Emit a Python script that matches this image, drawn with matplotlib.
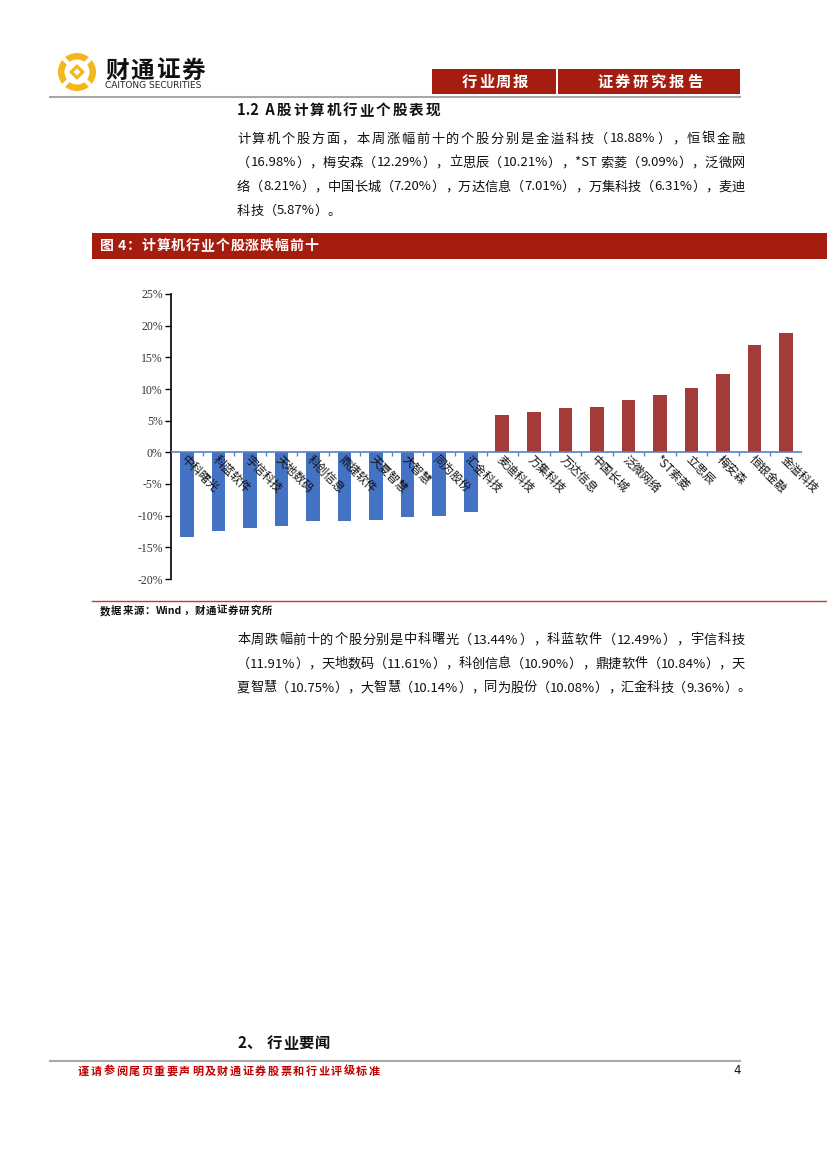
import matplotlib.pyplot as plt
from matplotlib.patches import Rectangle, Circle, Polygon

plt.rcParams['font.family'] = ['Noto Sans CJK SC', 'DejaVu Sans']

W, H = 827, 1170

# chart data (%)
names = ['中科曙光', '科蓝软件', '宇信科技', '天地数码', '科创信息', '鼎捷软件', '天夏智慧',
         '大智慧', '同为股份', '汇金科技', '麦迪科技', '万集科技', '万达信息', '中国长城',
         '泛微网络', '*ST索菱', '立思辰', '梅安森', '恒银金融', '金溢科技']
changes = [-13.44, -12.49, -11.91, -11.61, -10.90, -10.84, -10.75, -10.14, -10.08, -9.36,
           5.87, 6.31, 7.01, 7.20, 8.21, 9.09, 10.21, 12.29, 16.98, 18.88]
yticks = [-20, -15, -10, -5, 0, 5, 10, 15, 20, 25]

para1 = ['计算机个股方面，本周涨幅前十的个股分别是金溢科技（18.88%），恒银金融',
         '（16.98%），梅安森（12.29%），立思辰（10.21%），*ST 索菱（9.09%），泛微网',
         '络（8.21%），中国长城（7.20%），万达信息（7.01%），万集科技（6.31%），麦迪',
         '科技（5.87%）。']
para2 = ['本周跌幅前十的个股分别是中科曙光（13.44%），科蓝软件（12.49%），宇信科技',
         '（11.91%），天地数码（11.61%），科创信息（10.90%），鼎捷软件（10.84%），天',
         '夏智慧（10.75%），大智慧（10.14%），同为股份（10.08%），汇金科技（9.36%）。']

RED = '#A51D0F'
BLUE = '#4472C4'
BARRED = '#A33B39'

fig = plt.figure(figsize=(W / 100, H / 100), dpi=100)
renderer = fig.canvas.get_renderer()

# page layer in pixel coordinates
pg = fig.add_axes([0, 0, 1, 1])
pg.set_xlim(0, W)
pg.set_ylim(H, 0)
pg.axis('off')


def tokens(s):
    # one token per CJK char, ascii runs kept together
    out, buf = [], ''
    for c in s:
        if ord(c) < 128:
            buf += c
        else:
            if buf:
                out.append(buf)
                buf = ''
            out.append(c)
    if buf:
        out.append(buf)
    return out


def spread(line, x0, y, x1=None, gap=None, **kw):
    # place tokens of a line, stretching gaps so it fills x0..x1
    objs = []
    for t in tokens(line):
        objs.append(pg.text(0, y, t, va='center', ha='left', **kw))
    widths = [o.get_window_extent(renderer).width for o in objs]
    if x1 is not None and len(objs) > 1:
        gap = (x1 - x0 - sum(widths)) / (len(objs) - 1)
    if gap is None:
        gap = 0
    x = x0
    for o, w in zip(objs, widths):
        o.set_x(x)
        x += w + gap
    return gap


def para(lines, x0, x1, ys, size=9.5):
    gap = 0
    for k, (line, y) in enumerate(zip(lines, ys)):
        if k < len(lines) - 1:
            gap = spread(line, x0, y, x1=x1, fontsize=size, color='#111111')
        else:
            spread(line, x0, y, gap=gap, fontsize=size, color='#111111')


# logo
cx, cy = 77, 72
pg.add_patch(Circle((cx, cy), 19, color='#F4B71A', lw=0))
pg.add_patch(Circle((cx, cy), 12.5, color='white', lw=0))
pg.add_patch(Polygon([(cx, cy - 8), (cx + 8, cy), (cx, cy + 8), (cx - 8, cy)], color='#F4B71A', lw=0))
pg.add_patch(Polygon([(cx, cy - 3.5), (cx + 3.5, cy), (cx, cy + 3.5), (cx - 3.5, cy)], color='white', lw=0))
for dx, dy in [(1, 1), (1, -1), (-1, 1), (-1, -1)]:
    pg.plot([cx + dx * 9, cx + dx * 15], [cy + dy * 9, cy + dy * 15], color='white', lw=3)
spread('财通证券', 105, 71, x1=205, fontsize=17, fontweight='bold', color='#111111')
pg.text(105, 86, 'CAITONG SECURITIES', fontsize=6.5, va='center', family='DejaVu Sans', color='#222222')

# header boxes
pg.add_patch(Rectangle((432, 69), 124, 25, color=RED, lw=0))
pg.add_patch(Rectangle((558, 69), 182, 25, color=RED, lw=0))
spread('行业周报', 462, 81.5, x1=528, fontsize=11, fontweight='bold', color='white')
spread('证券研究报告', 597, 81.5, x1=702, fontsize=11, fontweight='bold', color='white')
pg.plot([50, 740], [97, 97], color='#A8A8A8', lw=1.5)

spread('1.2  A股计算机行业个股表现', 237, 110, x1=440, fontsize=10.5, fontweight='bold', color='#111111')
para(para1, 237, 745, [139, 163, 187, 211])

# figure title band
pg.add_patch(Rectangle((92, 233), 735, 26, color=RED, lw=0))
spread('图 4：计算机行业个股涨跌幅前十', 100, 246, x1=318, fontsize=10, fontweight='bold', color='white')

pg.plot([92, 827], [601, 601], color='#B8402A', lw=1)
spread('数据来源：Wind，财通证券研究所', 100, 611, x1=272, fontsize=7.5, fontweight='bold', color='#111111')

para(para2, 237, 745, [640, 664, 688])

spread('2、 行业要闻', 237, 1043, x1=330, fontsize=11, fontweight='bold', color='#111111')
pg.plot([50, 740], [1061, 1061], color='#A8A8A8', lw=1.5)
spread('谨请参阅尾页重要声明及财通证券股票和行业评级标准', 78, 1071, x1=380, fontsize=8,
       fontweight='bold', color='#C00000')
pg.text(733, 1071, '4', fontsize=8.5, va='center', color='#111111', family='DejaVu Sans')

# chart
ax = fig.add_axes([171 / W, 1 - 579 / H, (802 - 171) / W, (579 - 294) / H])
ax.patch.set_alpha(0)
x = list(range(len(names)))
colors = [BLUE if v < 0 else BARRED for v in changes]
ax.bar(x, changes, width=0.43, color=colors, zorder=2)
ax.set_xlim(-0.5, len(names) - 0.5)
ax.set_ylim(-20, 25)
ax.axhline(0, color='#5B7FC7', lw=1.2, zorder=3)
ax.vlines([i + 0.5 for i in x], -0.5, 0, color='#5B7FC7', lw=1, zorder=3)
for spine in ['top', 'right', 'bottom']:
    ax.spines[spine].set_visible(False)
ax.spines['left'].set_linewidth(1.2)
ax.set_xticks([])
ax.set_yticks(yticks)
ax.set_yticklabels([f'{v}%' for v in yticks], family='Liberation Serif', fontsize=8.5, color='#333333')
ax.tick_params(axis='y', direction='out', length=4, width=1, pad=2)
for i, n in zip(x, names):
    ax.text(i - 0.12, -0.9, n, rotation=-45, rotation_mode='anchor', ha='left', va='center',
            fontsize=8.5, color='#111111', zorder=4)

fig.savefig('out.png', dpi=100)
